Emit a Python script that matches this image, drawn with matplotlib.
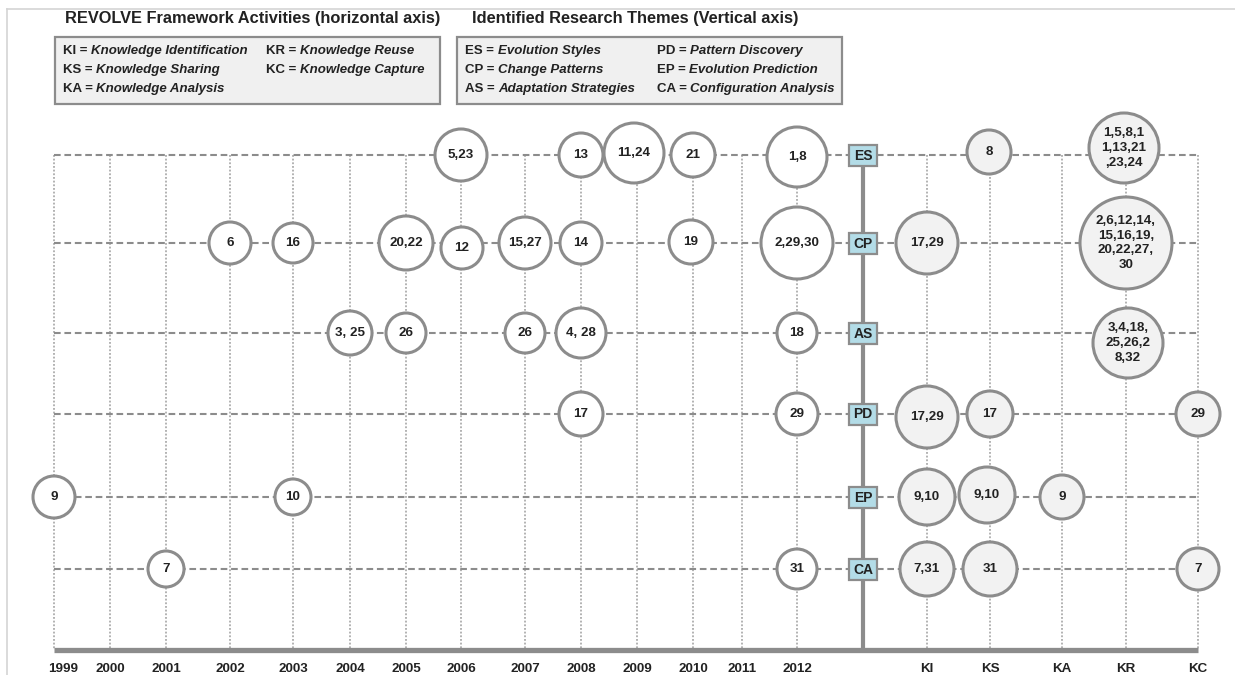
import matplotlib
matplotlib.use("Agg")
import matplotlib.pyplot as plt
import matplotlib.transforms as mtransforms
from matplotlib.patches import Circle, Rectangle
from matplotlib.lines import Line2D

# ---------------- data ----------------
themes = ["ES", "CP", "AS", "PD", "EP", "CA"]
years = ["1999", "2000", "2001", "2002", "2003", "2004", "2005", "2006",
         "2007", "2008", "2009", "2010", "2011", "2012"]
activities = ["KI", "KS", "KA", "KR", "KC"]

activity_legend = [("KI", "Knowledge Identification"), ("KS", "Knowledge Sharing"),
                   ("KA", "Knowledge Analysis"), ("KR", "Knowledge Reuse"),
                   ("KC", "Knowledge Capture")]
theme_legend = [("ES", "Evolution Styles"), ("CP", "Change Patterns"),
                ("AS", "Adaptation Strategies"), ("PD", "Pattern Discovery"),
                ("EP", "Evolution Prediction"), ("CA", "Configuration Analysis")]

bubble_theme = ["ES", "ES", "ES", "ES", "ES", "ES", "ES",
                "CP", "CP", "CP", "CP", "CP", "CP", "CP", "CP", "CP", "CP",
                "AS", "AS", "AS", "AS", "AS", "AS",
                "PD", "PD", "PD", "PD", "PD",
                "EP", "EP", "EP", "EP", "EP",
                "CA", "CA", "CA", "CA", "CA"]
bubble_column = ["2006", "2008", "2009", "2010", "2012", "KS", "KR",
                 "2002", "2003", "2005", "2006", "2007", "2008", "2010", "2012", "KI", "KR",
                 "2004", "2005", "2007", "2008", "2012", "KR",
                 "2008", "2012", "KI", "KS", "KC",
                 "1999", "2003", "KI", "KS", "KA",
                 "2001", "2012", "KI", "KS", "KC"]
bubble_papers = ["5,23", "13", "11,24", "21", "1,8", "8", "1,5,8,1\n1,13,21\n,23,24",
                 "6", "16", "20,22", "12", "15,27", "14", "19", "2,29,30", "17,29",
                 "2,6,12,14,\n15,16,19,\n20,22,27,\n30",
                 "3, 25", "26", "26", "4, 28", "18", "3,4,18,\n25,26,2\n8,32",
                 "17", "29", "17,29", "17", "29",
                 "9", "10", "9,10", "9,10", "9",
                 "7", "31", "7,31", "31", "7"]
# apparent bubble radius (px)
bubble_size = [26, 22, 30, 22, 30, 22, 35,
               21, 20, 27, 21, 26, 21, 22, 36, 31, 46,
               22, 20, 20, 25, 20, 35,
               22, 21, 31, 23, 22,
               21, 18, 28, 28, 22,
               18, 20, 27, 27, 21]

# ---------------- layout ----------------
year_x = [54, 110, 166, 230, 293, 350, 406, 461, 525, 581, 637, 693, 742, 797]
center_x = 863
activity_x = [927, 990, 1062, 1126, 1198]
theme_y = [155, 243, 333, 414, 497, 569]
axis_y = 650
col_x = dict(zip(years + activities, year_x + activity_x))
row_y = dict(zip(themes, theme_y))
nudge = {("ES", "KR"): (-2, -7), ("AS", "KR"): (2, 10), ("ES", "2009"): (-3, -2),
         ("CP", "2006"): (1, 5), ("ES", "KS"): (-1, -3), ("EP", "KS"): (-3, -2),
         ("PD", "KI"): (0, 3), ("CP", "2010"): (-2, -1), ("ES", "2012"): (0, 2)}

GREY = "#8c8c8c"
DOT = "#9e9e9e"
TXT = "#222222"
FONT = "Liberation Sans"
plt.rcParams["font.family"] = [FONT, "DejaVu Sans"]

fig = plt.figure(figsize=(12.35, 6.75), dpi=100)
ax = fig.add_axes([0, 25 / 675, 1, 650 / 675])
ax.set_xlim(0, 1235)
ax.set_ylim(axis_y, 0)
for s in ["top", "left", "right"]:
    ax.spines[s].set_visible(False)
ax.spines["bottom"].set_bounds(year_x[0], activity_x[-1])
ax.spines["bottom"].set_linewidth(3.8)
ax.spines["bottom"].set_color(GREY)
ax.spines["bottom"].set_capstyle("butt")
ax.set_yticks([])
ax.set_xticks(year_x + activity_x)
ax.set_xticklabels(years + activities, fontsize=9.6, fontweight="bold", color=TXT)
ax.tick_params(axis="x", length=0, pad=9.5)
lab0 = ax.get_xticklabels()[0]
lab0.set_transform(lab0.get_transform() + mtransforms.ScaledTranslation(9 / 100, 0, fig.dpi_scale_trans))

# figure frame lines
fig.add_artist(Line2D([7 / 1235, 1], [1 - 9 / 675, 1 - 9 / 675], color="#d4d4d4", lw=1.2))
fig.add_artist(Line2D([7 / 1235, 7 / 1235], [0, 1 - 9 / 675], color="#d4d4d4", lw=1.2))

# grid: vertical dotted, horizontal dashed
for x in year_x + activity_x:
    ax.plot([x, x], [theme_y[0], axis_y], color=DOT, lw=1.1, ls=(0, (1.2, 1.2)), zorder=1)
for y in theme_y:
    ax.plot([year_x[0], activity_x[-1]], [y, y], color=GREY, lw=1.5, ls=(0, (3.2, 1.8)), zorder=1)

# central vertical axis
ax.plot([center_x, center_x], [theme_y[0], axis_y], color=GREY, lw=3, solid_capstyle="butt", zorder=2)
for t, y in zip(themes, theme_y):
    ax.add_patch(Rectangle((center_x - 14, y - 10.5), 28, 21, facecolor="#b3dce7",
                           edgecolor=GREY, lw=1.6, zorder=4))
    ax.text(center_x, y + 0.5, t, ha="center", va="center", fontsize=10,
            fontweight="bold", color=TXT, zorder=5)

# bubbles
for th, col, lab, r in zip(bubble_theme, bubble_column, bubble_papers, bubble_size):
    dx, dy = nudge.get((th, col), (0, 0))
    x, y = col_x[col] + dx, row_y[th] + dy
    face = "white" if col in years else "#f2f2f2"
    ax.add_patch(Circle((x, y), r, facecolor=face, edgecolor=GREY, lw=2.2, zorder=3))
    ax.text(x, y, lab, ha="center", va="center", fontsize=9.6,
            fontweight="bold", color=TXT, linespacing=1.3, zorder=5)

# legend boxes
def legend_box(x0, x1, title, title_x, entries, colx):
    ax.add_patch(Rectangle((x0, 37), x1 - x0, 67, facecolor="#f0f0f0",
                           edgecolor=GREY, lw=1.6, zorder=2))
    ax.text(title_x, 19, title, ha="left", va="center", fontsize=11.8,
            fontweight="bold", color=TXT)
    rows_y = [51, 70, 89]
    for i, (abbr, name) in enumerate(entries):
        cx = colx[i // 3]
        cy = rows_y[i % 3]
        t1 = ax.text(cx, cy, abbr + " = ", ha="left", va="center", fontsize=9.5,
                     fontweight="bold", color=TXT, zorder=3)
        ax.annotate(name, xycoords=t1, xy=(1, 0.5), ha="left", va="center",
                    fontsize=9.5, fontweight="bold", fontstyle="italic", color=TXT, zorder=3)

legend_box(55, 440, "REVOLVE Framework Activities (horizontal axis)", 65,
           activity_legend, [63, 266])
legend_box(457, 842, "Identified Research Themes (Vertical axis)", 472,
           theme_legend, [465, 657])

fig.savefig("out.png", dpi=100)
